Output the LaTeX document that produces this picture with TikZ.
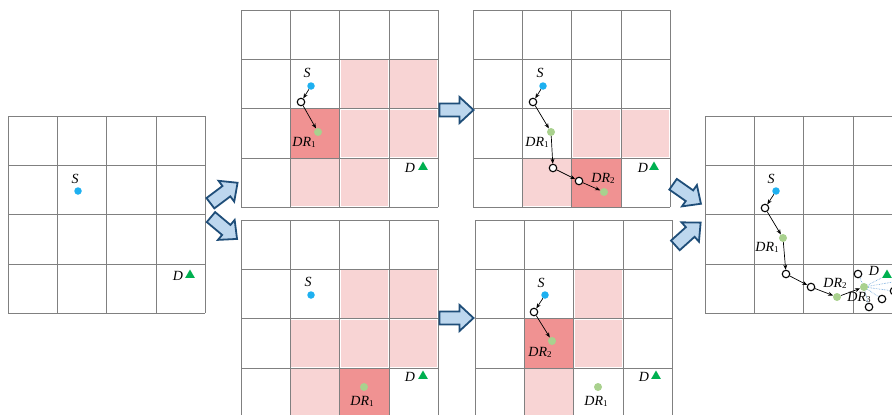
\documentclass[tikz,border=0pt]{standalone}
\usepackage{fontspec}
\setmainfont{Liberation Serif}
\usetikzlibrary{arrows.meta,shapes.geometric}
\definecolor{pinkL}{RGB}{248,212,212}
\definecolor{pinkD}{RGB}{240,146,146}
\definecolor{gridc}{RGB}{128,128,128}
\definecolor{scyan}{RGB}{30,176,240}
\definecolor{drgreen}{RGB}{169,209,142}
\definecolor{dgreen}{RGB}{0,176,80}
\definecolor{bafill}{RGB}{189,215,238}
\definecolor{badraw}{RGB}{31,78,121}
\definecolor{bluedot}{RGB}{91,155,213}
\tikzset{
  gridline/.style={draw=gridc, line width=0.8pt},
  sdot/.style={circle, fill=scyan, inner sep=0pt, minimum size=7.5pt},
  drdot/.style={circle, fill=drgreen, inner sep=0pt, minimum size=8pt},
  hollow/.style={circle, draw=black, fill=white, line width=1.1pt, inner sep=0pt, minimum size=7.5pt},
  dtri/.style={regular polygon, regular polygon sides=3, fill=dgreen, inner sep=0pt, minimum size=11pt},
  lbl/.style={font=\fontsize{14}{14}\selectfont\itshape, inner sep=0pt},
  arr/.style={-{Stealth[length=5pt,width=4pt]}, line width=0.7pt},
  bdot/.style={draw=bluedot, densely dotted, line width=0.6pt},
  blockarr/.style={fill=bafill, draw=badraw, line width=1.8pt, line join=miter},
}
\newcommand\drl[1]{DR\raisebox{-1pt}{\fontsize{9}{9}\selectfont\upshape #1}}
\newcommand\mygrid[2]{%
  \foreach \i in {0,...,4}{%
    \draw[gridline] (#1+\i*49.3,#2) -- ++(0,197.2);
    \draw[gridline] (#1,#2+\i*49.3) -- ++(197.2,0);
  }}
\newcommand\cellfill[5]{\fill[#5] (#1+#3*49.3+1,#2+#4*49.3+1) rectangle ++(47.3,47.3);}
\newcommand\blockarrow[3]{%
  \begin{scope}[shift={(#1,#2)},rotate=#3]
    \draw[blockarr] (-17,-6.5) -- (3,-6.5) -- (3,-13) -- (17,0) -- (3,13) -- (3,6.5) -- (-17,6.5) -- cycle;
  \end{scope}}
\begin{document}
\begin{tikzpicture}[x=1pt,y=-1pt]
\useasboundingbox (0,0) rectangle (892,415);
\clip (0,0) rectangle (892,415);
\fill[white] (0,0) rectangle (892,415);
% ---------- grid 1
\mygrid{8}{116}
\node[lbl] (s1l) at (75,179) {S};
\node[sdot] (s1) at (78,191) {};
\node[lbl] (d1l) at (178,276) {D};
\node[dtri] (d1) at (190,275) {};
% ---------- grid 2
\cellfill{241}{10}{2}{1}{pinkL}
\cellfill{241}{10}{3}{1}{pinkL}
\cellfill{241}{10}{2}{2}{pinkL}
\cellfill{241}{10}{3}{2}{pinkL}
\cellfill{241}{10}{1}{3}{pinkL}
\cellfill{241}{10}{2}{3}{pinkL}
\fill[pinkD] (241+49.3,10+2*49.3) rectangle ++(49.3,49.3);
\mygrid{241}{10}
\node[lbl] (s2l) at (307,73) {S};
\node[sdot] (s2) at (311,86) {};
\node[hollow] (h2a) at (301,102) {};
\node[drdot] (r2a) at (318,132) {};
\node[lbl] (r2al) at (304,142) {\drl{1}};
\node[lbl] (d2l) at (410,168) {D};
\node[dtri] (d2) at (423,167) {};
\draw[arr] (s2) -- (h2a);
\draw[arr] (h2a) -- (r2a);
% ---------- grid 3
\cellfill{473}{10}{2}{2}{pinkL}
\cellfill{473}{10}{3}{2}{pinkL}
\cellfill{473}{10}{1}{3}{pinkL}
\fill[pinkD] (473+2*49.3,10+3*49.3) rectangle ++(49.3,49.3);
\mygrid{473}{10}
\node[lbl] (s3l) at (540,73) {S};
\node[sdot] (s3) at (543,86) {};
\node[hollow] (h3a) at (533,102) {};
\node[drdot] (r3a) at (551,132) {};
\node[lbl] (r3al) at (537,142) {\drl{1}};
\node[hollow] (h3b) at (553,168) {};
\node[hollow] (h3c) at (579,181) {};
\node[drdot] (r3b) at (604,192) {};
\node[lbl] (r3bl) at (603,178) {\drl{2}};
\node[lbl] (d3l) at (643,168) {D};
\node[dtri] (d3) at (654,167) {};
\draw[arr] (s3) -- (h3a);
\draw[arr] (h3a) -- (r3a);
\draw[arr] (r3a) -- (h3b);
\draw[arr] (h3b) -- (h3c);
\draw[arr] (h3c) -- (r3b);
% ---------- grid 4
\cellfill{241}{220}{2}{1}{pinkL}
\cellfill{241}{220}{3}{1}{pinkL}
\cellfill{241}{220}{1}{2}{pinkL}
\cellfill{241}{220}{2}{2}{pinkL}
\cellfill{241}{220}{3}{2}{pinkL}
\cellfill{241}{220}{1}{3}{pinkL}
\fill[pinkD] (241+2*49.3,220+3*49.3) rectangle ++(49.3,49.3);
\mygrid{241}{220}
\node[lbl] (s4l) at (308,282) {S};
\node[sdot] (s4) at (311,295) {};
\node[drdot] (r4a) at (364,387) {};
\node[lbl] (r4al) at (362,401) {\drl{1}};
\node[lbl] (d4l) at (410,377) {D};
\node[dtri] (d4) at (423,376) {};
% ---------- grid 5
\cellfill{475}{220}{2}{1}{pinkL}
\cellfill{475}{220}{2}{2}{pinkL}
\cellfill{475}{220}{1}{3}{pinkL}
\fill[pinkD] (475+49.3,220+2*49.3) rectangle ++(49.3,49.3);
\mygrid{475}{220}
\node[lbl] (s5l) at (541,283) {S};
\node[sdot] (s5) at (545,295) {};
\node[hollow] (h5a) at (534,312) {};
\node[drdot] (r5b) at (552,341) {};
\node[lbl] (r5bl) at (540,352) {\drl{2}};
\node[drdot] (r5a) at (598,387) {};
\node[lbl] (r5al) at (596,401) {\drl{1}};
\node[lbl] (d5l) at (644,377) {D};
\node[dtri] (d5) at (656,376) {};
\draw[arr] (s5) -- (h5a);
\draw[arr] (h5a) -- (r5b);
% ---------- grid 6
\mygrid{705}{116}
\node[lbl] (s6l) at (771,179) {S};
\node[sdot] (s6) at (776,191) {};
\node[hollow] (h6a) at (765,208) {};
\node[drdot] (r6a) at (783,238) {};
\node[lbl] (r6al) at (767,247) {\drl{1}};
\node[hollow] (h6b) at (786,274) {};
\node[hollow] (h6c) at (811,287) {};
\node[drdot] (r6b) at (837,297) {};
\node[lbl] (r6bl) at (835,283) {\drl{2}};
\node[drdot] (r6c) at (864,287) {};
\node[lbl] (r6cl) at (859,297) {\drl{3}};
\node[lbl] (d6l) at (874,271) {D};
\node[dtri] (d6) at (887,275) {};
\node[hollow] (n1) at (858,274) {};
\node[hollow] (n2) at (882,299) {};
\node[hollow] (n3) at (869,307) {};
\node[hollow] (n4) at (894,291) {};
\coordinate (e1) at (893,282);
\draw[bdot] (r6c) -- (n1);
\draw[bdot] (r6c) -- (n2);
\draw[bdot] (r6c) -- (n3);
\draw[bdot] (r6c) -- (n4);
\draw[bdot] (r6c) -- (d6);
\draw[bdot] (r6c) -- (e1);
\draw[arr] (s6) -- (h6a);
\draw[arr] (h6a) -- (r6a);
\draw[arr] (r6a) -- (h6b);
\draw[arr] (h6b) -- (h6c);
\draw[arr] (h6c) -- (r6b);
\draw[arr] (r6b) -- (r6c);
% ---------- block arrows
\blockarrow{224}{193}{37}
\blockarrow{224}{228}{-40}
\blockarrow{456.5}{110}{0}
\blockarrow{456.5}{318}{0}
\blockarrow{687}{194}{-35}
\blockarrow{688}{234}{42}
\end{tikzpicture}
\end{document}
